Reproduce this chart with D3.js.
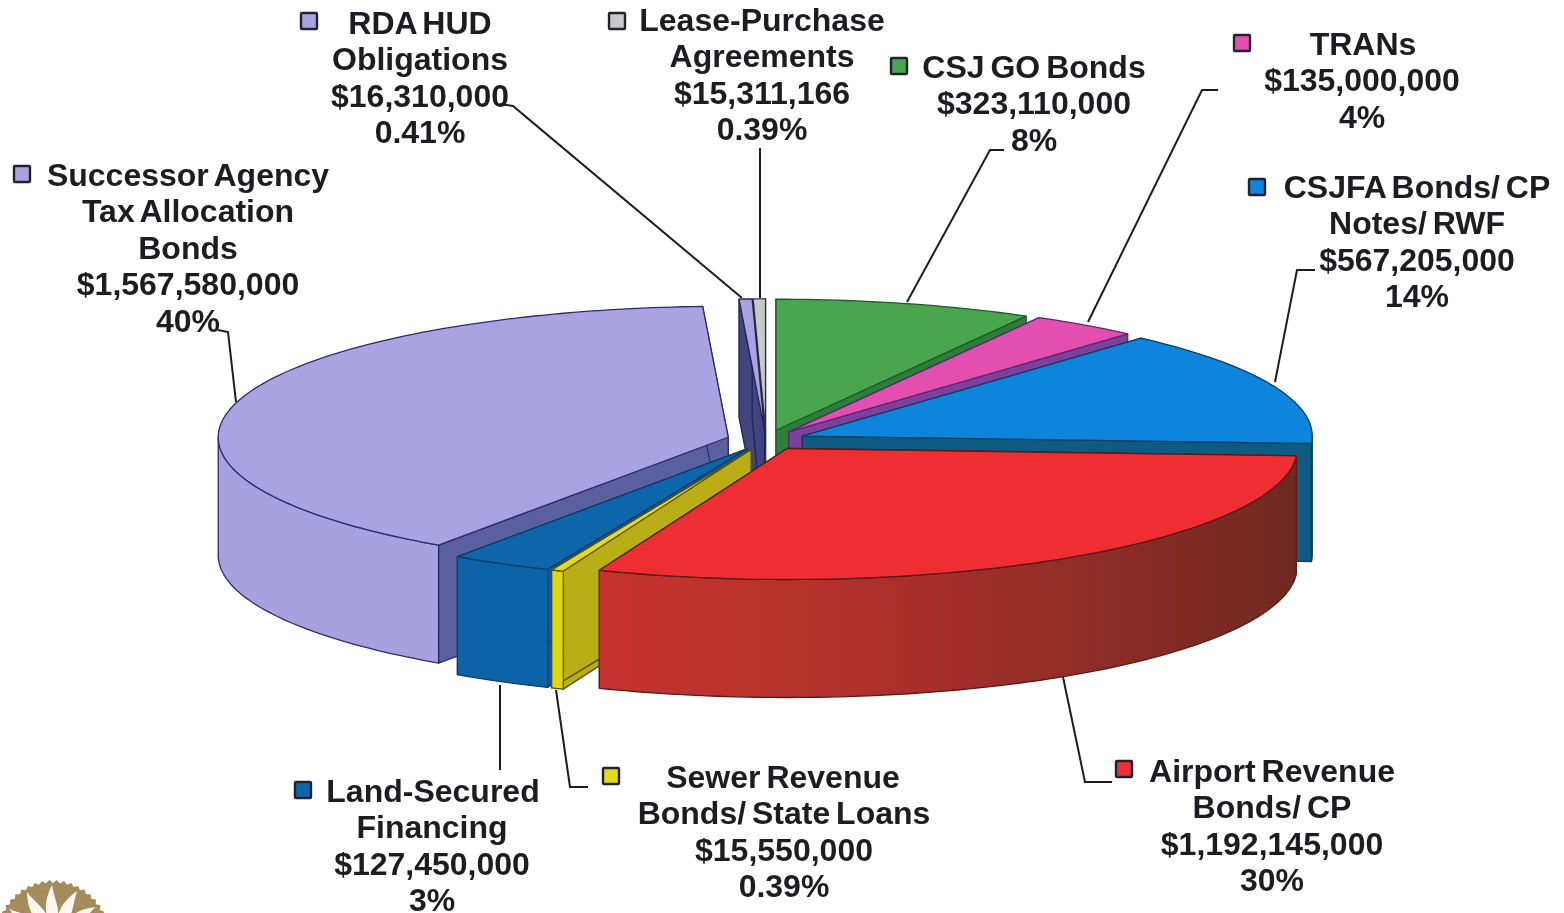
<!DOCTYPE html>
<html>
<head>
<meta charset="utf-8">
<script src="https://cdn.jsdelivr.net/npm/d3@7"></script>
<style>
  html, body { margin: 0; background: #fff; }
  svg { display: block; }
  text { font-family: "Liberation Sans", Arial, sans-serif; font-weight: bold; font-size: 32px; fill: #1c1c20; text-anchor: middle; word-spacing: -3px; }
</style>
</head>
<body>
<svg width="1564" height="913"></svg>
<script>
// clockwise from 12 o'clock, as the slices run in the picture
const categories = ["CSJ GO Bonds", "TRANs", "CSJFA Bonds/ CP Notes/ RWF", "Airport Revenue Bonds/ CP",
    "Sewer Revenue Bonds/ State Loans", "Land-Secured Financing", "Successor Agency Tax Allocation Bonds",
    "RDA HUD Obligations", "Lease-Purchase Agreements"];
const amounts = [323110000, 135000000, 567205000, 1192145000, 15550000, 127450000, 1567580000, 16310000, 15311166];
const shares = ["8%", "4%", "14%", "30%", "0.39%", "3%", "40%", "0.41%", "0.39%"];

// colours: top face, outer wall, cut wall, swatch
const topColors = ["#4aa650", "#e34fae", "#0a85dc", "#ee2f30", "#e6dc14", "#1166aa", "#a9a3e2", "#a9a3e2", "#c8c9c9"];
const rimColors = ["#2f7a38", "#8a3a8c", "#0d5a82", "#b5302c", "#e0d616", "#0f63a8", "#a7a1e0", "#3f4480", "#3f4480"];
const cutColors = ["#2f7d3a", "#7c3f9f", "#0d5a82", "#7a2a25", "#b9ae12", "#0f5a98", "#5a619f", "#3f4480", "#3f4480"];
const edgeColors = ["#1f5a28", "#5a2a70", "#0a3f5c", "#5a1a18", "#55500c", "#0c3c68", "#2c2c70", "#24264f", "#33333c"];

// label layout, same order as categories: [text lines, x of each line, baseline of first line]
const labelLines = [["CSJ GO Bonds"], ["TRANs"], ["CSJFA Bonds/ CP", "Notes/ RWF"], ["Airport Revenue", "Bonds/ CP"],
    ["Sewer Revenue", "Bonds/ State Loans"], ["Land-Secured", "Financing"], ["Successor Agency", "Tax Allocation", "Bonds"],
    ["RDA HUD", "Obligations"], ["Lease-Purchase", "Agreements"]];
const labelX = [1034, 1362, 1417, 1272, 784, 432, 188, 420, 762];
const labelY = [78, 55, 198, 782, 788, 802, 186, 34, 31];
const firstLineX = [1034, 1363, 1417, 1272, 783, 433, 188, 420, 762];
const swatchPos = [[890, 57], [1233, 34], [1248, 178], [1115, 760], [602, 767], [294, 781], [13, 165], [300, 12], [608, 12]];
const leaders = [
    [[1004, 150], [990, 150], [907, 302]],
    [[1218, 90], [1202, 90], [1088, 322]],
    [[1315, 270], [1297, 270], [1275, 382]],
    [[1112, 782], [1085, 782], [1063, 677]],
    [[588, 787], [570, 787], [556, 690]],
    [[500, 770], [500, 685]],
    [[218, 330], [228, 332], [236, 402]],
    [[500, 104], [513, 106], [742, 298]],
    [[760, 148], [760, 298]]
];

const cx = 766, cy = 440, rx = 510, ry = 131, depth = 118, explode = 0.077;

const svg = d3.select("svg");

const defs = svg.append("defs");
defs.append("filter").attr("id", "soft")
    .append("feGaussianBlur").attr("stdDeviation", 0.45);
const airportWall = defs.append("linearGradient").attr("id", "airportWall")
    .attr("gradientUnits", "userSpaceOnUse").attr("x1", 600).attr("x2", 1300).attr("y1", 0).attr("y2", 0);
airportWall.append("stop").attr("offset", 0).attr("stop-color", "#c8322e");
airportWall.append("stop").attr("offset", 0.45).attr("stop-color", "#a82f2b");
airportWall.append("stop").attr("offset", 1).attr("stop-color", "#6e2a22");

const root = svg.append("g").attr("filter", "url(#soft)");

const pie = d3.pie().sort(null).startAngle(0).endAngle(2 * Math.PI);
const slices = pie(amounts).map(function(d, i) {
    const mid = (d.startAngle + d.endAngle) / 2;
    return {
        i: i,
        start: d.startAngle,
        end: d.endAngle,
        mid: mid,
        ox: cx + explode * rx * Math.sin(mid),
        oy: cy - explode * ry * Math.cos(mid),
        spansFront: d.startAngle < Math.PI && d.endAngle > Math.PI
    };
});

const line = d3.line();

function rimPoint(s, a, drop) {
    return [s.ox + rx * Math.sin(a), s.oy - ry * Math.cos(a) + drop];
}

function arcPoints(s, a0, a1, drop) {
    const n = Math.max(2, Math.ceil((a1 - a0) / 0.02));
    return d3.range(n + 1).map(function(k) {
        return rimPoint(s, a0 + (a1 - a0) * k / n, drop);
    });
}

function cutWall(s, a) {
    const p = rimPoint(s, a, 0), q = rimPoint(s, a, depth);
    return line([[s.ox, s.oy], p, q, [s.ox, s.oy + depth]]) + "Z";
}

// back to front, the slice across the front goes last
const drawOrder = slices.slice().sort(function(a, b) {
    return d3.ascending(a.spansFront ? 2 : -Math.cos(a.mid), b.spansFront ? 2 : -Math.cos(b.mid));
});

drawOrder.forEach(function(s) {
    const g = root.append("g").attr("class", "slice")
        .attr("stroke", edgeColors[s.i]).attr("stroke-width", 1.3).attr("stroke-linejoin", "round");

    [s.start, s.end].forEach(function(a) {
        g.append("path").attr("d", cutWall(s, a)).attr("fill", cutColors[s.i]);
    });

    const a0 = Math.max(s.start, Math.PI / 2), a1 = Math.min(s.end, 3 * Math.PI / 2);
    if (a1 > a0) {
        const wall = arcPoints(s, a0, a1, 0).concat(arcPoints(s, a0, a1, depth).reverse());
        g.append("path").attr("d", line(wall) + "Z")
            .attr("fill", s.spansFront ? "url(#airportWall)" : rimColors[s.i]);
    }

    g.append("path")
        .attr("d", line([[s.ox, s.oy]].concat(arcPoints(s, s.start, s.end, 0))) + "Z")
        .attr("fill", topColors[s.i]);
});

// leader lines
root.append("g").selectAll("path").data(leaders).enter().append("path")
    .attr("d", function(d) { return line(d); })
    .attr("fill", "none").attr("stroke", "#1c1c20").attr("stroke-width", 2);

// swatches
root.append("g").selectAll("rect").data(swatchPos).enter().append("rect")
    .attr("x", function(d) { return d[0] + 1; })
    .attr("y", function(d) { return d[1] + 1; })
    .attr("width", 16).attr("height", 16).attr("rx", 1)
    .attr("fill", function(d, i) { return topColors[i]; })
    .attr("stroke", "#22222e").attr("stroke-width", 2.4);

// labels: name lines, then amount and share
const money = d3.format("$,");
const labels = root.append("g").selectAll("text").data(categories).enter().append("text")
    .attr("y", function(d, i) { return labelY[i]; });

labels.each(function(d, i) {
    const rows = labelLines[i].concat([money(amounts[i]), shares[i]]);
    const t = d3.select(this);
    rows.forEach(function(row, k) {
        t.append("tspan")
            .attr("x", k === 0 ? firstLineX[i] : labelX[i])
            .attr("y", labelY[i] + k * 36.4)
            .text(row);
    });
});

// seal in the bottom left corner, mostly cut off by the page
const sealX = 53, sealY = 937, sealR = 57;
const seal = root.append("g").attr("transform", "translate(" + sealX + "," + sealY + ")");
const teeth = d3.range(96).map(function(k) {
    return [k * 2 * Math.PI / 96, k % 2 ? sealR : sealR - 3];
});
seal.append("path").attr("d", d3.lineRadial()(teeth) + "Z").attr("fill", "#a58c5c");
const flame = "M-5,-17 C-9,-30 -7,-40 -1,-52 C0,-42 7,-30 5,-17 Z";
[-82, -56, -29, 0, 29, 56, 82].forEach(function(deg) {
    seal.append("path").attr("d", flame).attr("fill", "#fbf8f0")
        .attr("transform", "rotate(" + deg + ")");
});
</script>
</body>
</html>
